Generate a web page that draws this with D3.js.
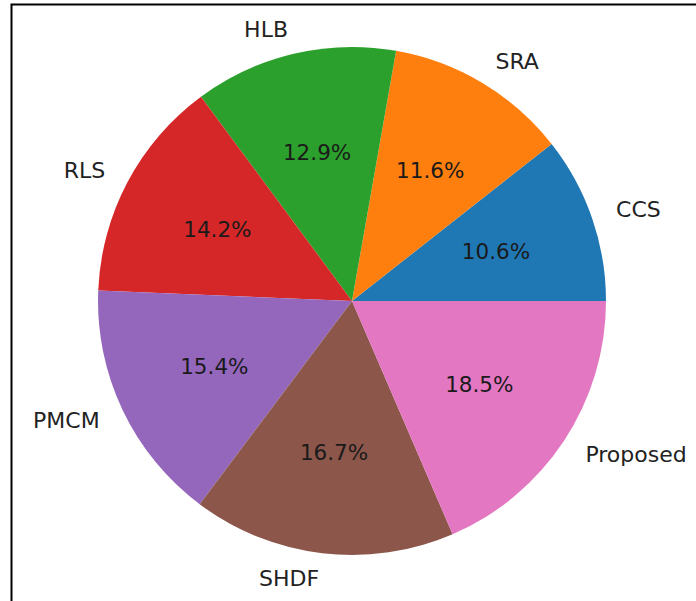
<!DOCTYPE html>
<html lang="en">
    <head>
        <meta charset="UTF-8">
        <title>Pie</title>
        <style>
            body {
            margin: 0;
            padding: 0;
            background: white;
            }
            text {
            font-family: "DejaVu Sans", sans-serif;
            }
        </style>
    </head>
    <body>
        <div id="pieChart"></div>

        <script src="https://d3js.org/d3.v7.min.js"></script>

        <script>
            const labels = ['CCS', 'SRA', 'HLB', 'RLS', 'PMCM', 'SHDF', 'Proposed'];
            const shares = [10.6, 11.6, 12.9, 14.2, 15.4, 16.7, 18.5];
            const colors = ['#1f77b4', '#ff7f0e', '#2ca02c', '#d62728', '#9467bd', '#8c564b', '#e377c2'];

            function createPieChart() {
                const width = 696;
                const height = 601;
                const cx = 352, cy = 301, radius = 254;

                const svg = d3.select('#pieChart')
                .append('svg')
                .attr('width', width)
                .attr('height', height);

                // frame of the cropped figure
                svg.append('rect')
                .attr('x', 11.5)
                .attr('y', 4.5)
                .attr('width', 800)
                .attr('height', 800)
                .attr('fill', 'none')
                .attr('stroke', '#000')
                .attr('stroke-width', 2);

                const g = svg.append('g')
                .attr('transform', `translate(${cx}, ${cy})`);

                // start at 3 o'clock, go counterclockwise like matplotlib
                const pie = d3.pie()
                .sort(null)
                .value(d => d.value)
                .startAngle(Math.PI / 2)
                .endAngle(Math.PI / 2 - 2 * Math.PI);

                const data = labels.map((l, i) => ({ label: l, value: shares[i], color: colors[i] }));
                const arcs = pie(data);

                const arc = d3.arc().innerRadius(0).outerRadius(radius);

                g.selectAll('.slice')
                .data(arcs)
                .enter().append('path')
                .attr('class', 'slice')
                .attr('d', arc)
                .attr('fill', d => d.data.color);

                const mid = d => (d.startAngle + d.endAngle) / 2;

                g.selectAll('.label')
                .data(arcs)
                .enter().append('text')
                .attr('class', 'label')
                .attr('x', d => 1.1 * radius * Math.sin(mid(d)))
                .attr('y', d => -1.1 * radius * Math.cos(mid(d)))
                .attr('dominant-baseline', 'central')
                .attr('text-anchor', d => Math.sin(mid(d)) > 0 ? 'start' : 'end')
                .attr('font-size', 22)
                .attr('fill', '#222')
                .text(d => d.data.label);

                g.selectAll('.pct')
                .data(arcs)
                .enter().append('text')
                .attr('class', 'pct')
                .attr('x', d => 0.6 * radius * Math.sin(mid(d)))
                .attr('y', d => -0.6 * radius * Math.cos(mid(d)))
                .attr('dominant-baseline', 'central')
                .attr('text-anchor', 'middle')
                .attr('font-size', 21.5)
                .attr('fill', '#1a1a1a')
                .text(d => d.data.value.toFixed(1) + '%');
            }

            createPieChart();
        </script>
    </body>
</html>
